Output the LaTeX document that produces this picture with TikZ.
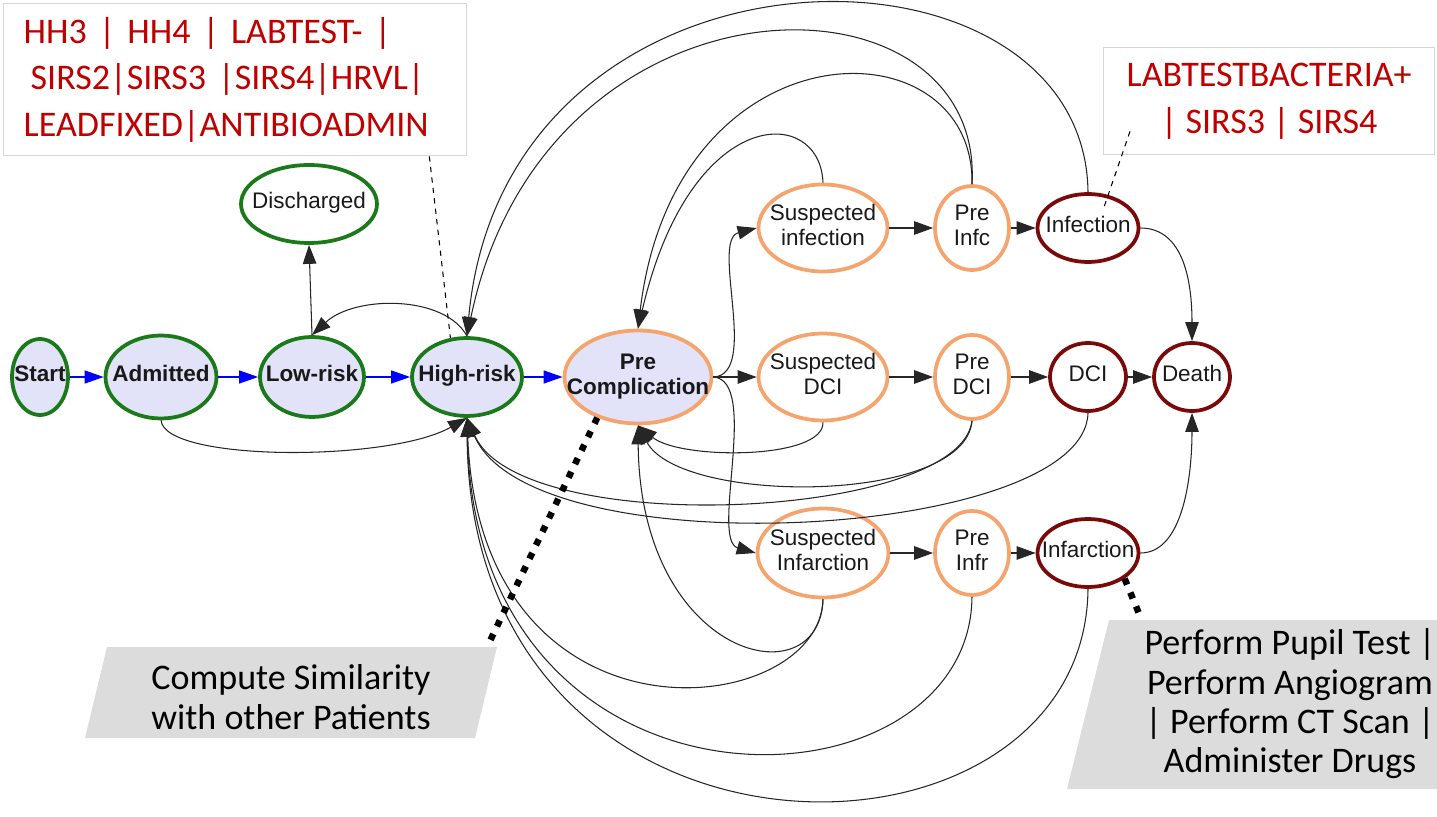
\documentclass[tikz,border=0pt]{standalone}
\usepackage{fontspec}
\setmainfont{Liberation Sans}
\newfontfamily\notefont{Carlito}
\usepackage{tikz}
\usetikzlibrary{shapes.geometric, arrows.meta, positioning}
\definecolor{StateGreen}{HTML}{1A7A1A}
\definecolor{StateFill}{HTML}{E2E2F8}
\definecolor{StateOrange}{HTML}{F6A46E}
\definecolor{StateMaroon}{HTML}{7A0A0A}
\definecolor{NoteRed}{HTML}{C00000}
\definecolor{NoteGray}{HTML}{DCDCDC}
\definecolor{NoteBorder}{HTML}{D6D6D6}
\newcommand{\statetext}[1]{\makebox[0pt]{\begin{tabular}{@{}c@{}}#1\end{tabular}}}
\tikzset{
  % State styles
  basestate/.style={ellipse, line width=0.075cm, inner sep=0pt, text=black!90, font=\fontsize{12.8}{14.2}\selectfont},
  riskstate/.style={basestate, draw=StateGreen, fill=StateFill, font=\fontsize{12.8}{14.2}\selectfont\bfseries},
  greenstate/.style={basestate, draw=StateGreen},
  compstate/.style={basestate, draw=StateOrange},
  endstate/.style={basestate, draw=StateMaroon},
  % Note styles
  notebox/.style={rectangle, draw=NoteBorder, line width=0.8pt, fill=white, text=NoteRed, inner xsep=0.4cm, font=\notefont\fontsize{20.5}{26.5}\selectfont},
  callouttext/.style={align=center, text=black, font=\notefont\fontsize{20.5}{22.4}\selectfont},
  % Arrow styles
  bluearrow/.style={-{Triangle[length=0.38cm, width=0.26cm]}, line width=0.7pt, blue},
  blackarrow/.style={-{Triangle[length=0.38cm, width=0.27cm]}, line width=0.6pt, black!85},
  noteleader/.style={dashed, line width=0.6pt, black},
  calloutdots/.style={line width=0.13cm, dash pattern=on 0.13cm off 0.17cm}
}

\begin{document}
\begin{tikzpicture}[x=0.02cm, y=-0.02cm]
  \useasboundingbox (0,0) rectangle (1437,817);

  % Callout backgrounds
  \fill[NoteGray] (107,647) -- (497,647) -- (475,738) -- (85,738) -- cycle;
  \fill[NoteGray] (1109,620) -- (1450,620) -- (1450,789) -- (1067,789) -- cycle;

  % Risk states
  \node[riskstate, minimum width=1.12cm, minimum height=1.52cm] (start) at (40,377) {\statetext{Start}};
  \node[riskstate, minimum width=2.22cm, minimum height=1.66cm] (admitted) at (161,377) {\statetext{Admitted}};
  \node[riskstate, minimum width=2.08cm, minimum height=1.6cm] (lowrisk) at (312,377) {\statetext{Low-risk}};
  \node[riskstate, minimum width=2.2cm, minimum height=1.56cm] (highrisk) at (467,377) {\statetext{High-risk}};
  \node[greenstate, minimum width=2.72cm, minimum height=1.56cm] (discharged) at (309,204) {\statetext{Discharged}};
  \node[compstate, fill=StateFill, font=\fontsize{12.8}{14.2}\selectfont\bfseries, minimum width=2.94cm, minimum height=1.86cm] (precomp) at (638,377) {\statetext{Pre\\Complication}};

  % Complication states
  \node[compstate, minimum width=2.58cm, minimum height=1.74cm] (suspinfc) at (823,228) {\statetext{Suspected\\infection}};
  \node[compstate, minimum width=1.48cm, minimum height=1.68cm] (preinfc) at (972,228) {\statetext{Pre\\Infc}};
  \node[endstate, minimum width=2.02cm, minimum height=1.36cm] (infection) at (1088,228) {\statetext{Infection}};
  \node[compstate, minimum width=2.58cm, minimum height=1.74cm] (suspdci) at (823,377) {\statetext{Suspected\\DCI}};
  \node[compstate, minimum width=1.48cm, minimum height=1.68cm] (predci) at (972,377) {\statetext{Pre\\DCI}};
  \node[endstate, minimum width=1.52cm, minimum height=1.36cm] (dci) at (1088,377) {\statetext{DCI}};
  \node[endstate, minimum width=1.52cm, minimum height=1.36cm] (death) at (1192,377) {\statetext{Death}};
  \node[compstate, minimum width=2.62cm, minimum height=1.78cm] (suspinfr) at (823,553) {\statetext{Suspected\\Infarction}};
  \node[compstate, minimum width=1.48cm, minimum height=1.68cm] (preinfr) at (972,553) {\statetext{Pre\\Infr}};
  \node[endstate, minimum width=2.02cm, minimum height=1.36cm] (infarction) at (1088,553) {\statetext{Infarction}};

  % Main flow
  \draw[bluearrow] (start) -- (admitted);
  \draw[bluearrow] (admitted) -- (lowrisk);
  \draw[bluearrow] (lowrisk) -- (highrisk);
  \draw[bluearrow] (highrisk) -- (precomp);

  % Risk loops
  \draw[blackarrow] (lowrisk.north) -- (discharged.south);
  \draw[blackarrow] (highrisk.north) .. controls (445,295) and (355,295) .. (lowrisk.north);
  \draw[blackarrow] (admitted.south) .. controls (165,462) and (390,462) .. (highrisk.south);

  % Branches and chains
  \draw[blackarrow] (precomp.east) .. controls (760,375) and (710,240) .. (suspinfc.west);
  \draw[blackarrow] (precomp) -- (suspdci);
  \draw[blackarrow] (precomp.east) .. controls (760,380) and (710,540) .. (suspinfr.west);
  \draw[blackarrow] (suspinfc) -- (preinfc);
  \draw[blackarrow] (preinfc) -- (infection);
  \draw[blackarrow] (suspdci) -- (predci);
  \draw[blackarrow] (predci) -- (dci);
  \draw[blackarrow] (dci) -- (death);
  \draw[blackarrow] (suspinfr) -- (preinfr);
  \draw[blackarrow] (preinfr) -- (infarction);
  \draw[blackarrow] (infection.east) .. controls (1185,228) and (1192,285) .. (death.north);
  \draw[blackarrow] (infarction.east) .. controls (1185,553) and (1192,470) .. (death.south);

  % Returns over the top
  \draw[blackarrow] (infection.north) .. controls (1085,-80) and (505,-80) .. (highrisk.north);
  \draw[blackarrow] (preinfc.north) .. controls (985,-40) and (545,-40) .. (highrisk.north);
  \draw[blackarrow] (preinfc.north) .. controls (975,20) and (675,20) .. (precomp.north);
  \draw[blackarrow] (suspinfc.north) .. controls (820,104) and (690,104) .. (precomp.north);

  % Returns underneath
  \draw[blackarrow] (suspdci.south) .. controls (824,460) and (680,460) .. (precomp.south);
  \draw[blackarrow] (predci.south) .. controls (965,505) and (680,505) .. (precomp.south);
  \draw[blackarrow] (suspinfr.south) .. controls (820,700) and (640,660) .. (precomp.south);
  \draw[blackarrow] (predci.south) .. controls (960,520) and (520,540) .. (highrisk.south);
  \draw[blackarrow] (dci.south) .. controls (1085,540) and (530,570) .. (highrisk.south);
  \draw[blackarrow] (suspinfr.south) .. controls (820,720) and (480,760) .. (highrisk.south);
  \draw[blackarrow] (preinfr.south) .. controls (970,820) and (475,840) .. (highrisk.south);
  \draw[blackarrow] (infarction.south) .. controls (1085,890) and (470,900) .. (highrisk.south);

  % Notes
  \node[notebox, minimum width=9.26cm, minimum height=3.04cm, text width=8.46cm, align=left, anchor=north west] (hrnote) at (3,3)
    {HH3 | HH4 | LABTEST- |\\\hspace*{0.14cm}SIRS2|SIRS3 |SIRS4|HRVL|\\LEADFIXED|ANTIBIOADMIN};
  \node[notebox, minimum width=6.62cm, minimum height=2.14cm, align=center, anchor=north west] (infnote) at (1103,47)
    {LABTESTBACTERIA+\\| SIRS3 | SIRS4};
  \draw[noteleader] ([xshift=-0.76cm]hrnote.south east) -- (highrisk.113);
  \draw[noteleader] ([xshift=0.54cm, yshift=0.48cm]infnote.south west) -- ([xshift=0.3cm, yshift=0.36cm]infection.center);

  % Callouts
  \coordinate (simtip) at (489,643);
  \coordinate (drugtip) at (1140,616);
  \node[callouttext] (simnote) at (291,697) {Compute Similarity\\with other Patients};
  \node[callouttext] (drugnote) at (1290,704) {Perform Pupil Test |\\Perform Angiogram\\| Perform CT Scan |\\Administer Drugs};
  \draw[calloutdots] (precomp.225) -- (simtip);
  \draw[calloutdots] (infarction.-35) -- (drugtip);
\end{tikzpicture}
\end{document}
